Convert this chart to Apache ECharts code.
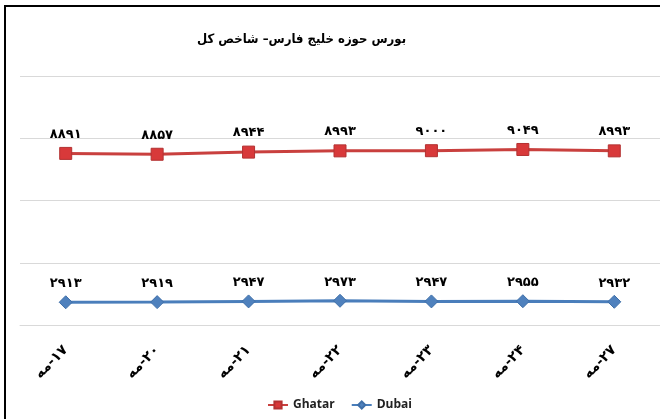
<!DOCTYPE html>
<html>
<head>
<meta charset="utf-8">
<script src="https://cdn.jsdelivr.net/npm/echarts@6/dist/echarts.min.js"></script>
<style>
html, body { margin: 0; padding: 0; background: #fff; }
#main { width: 660px; height: 419px; }
</style>
</head>
<body>
<div id="main" dir="rtl"></div>
<script>
var categories = ['۱۷-مه', '۲۰-مه', '۲۱-مه', '۲۲-مه', '۲۳-مه', '۲۴-مه', '۲۷-مه'];
var ghatar = [8891, 8857, 8944, 8993, 9000, 9049, 8993];
var dubai = [2913, 2919, 2947, 2973, 2947, 2955, 2932];

var faDigits = '۰۱۲۳۴۵۶۷۸۹';
function toFa(n) {
    return String(n).replace(/[0-9]/g, function (d) { return faDigits[+d]; });
}

var arFont = 'DejaVu Sans';

var option = {
    animation: false,
    title: {
        text: 'بورس حوزه خلیج فارس– شاخص کل',
        left: 192,
        top: 28,
        textStyle: {
            fontFamily: 'DejaVu Sans Condensed',
            fontSize: 13,
            fontWeight: 'bold',
            color: '#000'
        }
    },
    legend: {
        data: ['Ghatar', 'Dubai'],
        bottom: 3,
        left: 262,
        itemGap: 16,
        itemWidth: 20,
        itemHeight: 9,
        textStyle: {
            fontFamily: 'Open Sans',
            fontSize: 12,
            fontWeight: 'bold',
            color: '#222'
        }
    },
    grid: {
        left: 20,
        right: 0,
        top: 76,
        bottom: 94
    },
    xAxis: {
        type: 'category',
        data: categories,
        axisLine: { lineStyle: { color: '#d9d9d9' } },
        axisTick: { show: false },
        axisLabel: {
            rotate: 45,
            margin: 23,
            fontFamily: arFont,
            fontSize: 14,
            fontWeight: 'bold',
            color: '#000'
        }
    },
    yAxis: {
        type: 'value',
        min: 2000,
        max: 12000,
        interval: 2500,
        axisLabel: { show: false },
        axisLine: { show: false },
        axisTick: { show: false },
        splitLine: { lineStyle: { color: '#d9d9d9', width: 1 } }
    },
    series: [
        {
            name: 'Ghatar',
            type: 'line',
            data: ghatar,
            symbol: 'rect',
            symbolSize: 12,
            lineStyle: { color: '#c9403e', width: 3 },
            itemStyle: { color: '#d8393a', borderColor: '#b33232', borderWidth: 1 },
            label: {
                show: true,
                position: 'top',
                distance: 6,
                formatter: function (p) { return toFa(p.value); },
                fontFamily: arFont,
                fontSize: 13,
                fontWeight: 'bold',
                color: '#000'
            }
        },
        {
            name: 'Dubai',
            type: 'line',
            data: dubai,
            symbol: 'diamond',
            symbolSize: 13,
            lineStyle: { color: '#4a7ebb', width: 3 },
            itemStyle: { color: '#4f81bd', borderColor: '#3f6fa8', borderWidth: 1 },
            label: {
                show: true,
                position: 'top',
                distance: 5,
                formatter: function (p) { return toFa(p.value); },
                fontFamily: arFont,
                fontSize: 13,
                fontWeight: 'bold',
                color: '#000'
            }
        }
    ],
    graphic: [
        { type: 'rect', shape: { x: 4, y: 5, width: 656, height: 2 }, style: { fill: '#000' } },
        { type: 'rect', shape: { x: 4, y: 5, width: 2, height: 414 }, style: { fill: '#000' } }
    ]
};

var chart = echarts.init(document.getElementById('main'));
chart.setOption(option);
</script>
</body>
</html>
